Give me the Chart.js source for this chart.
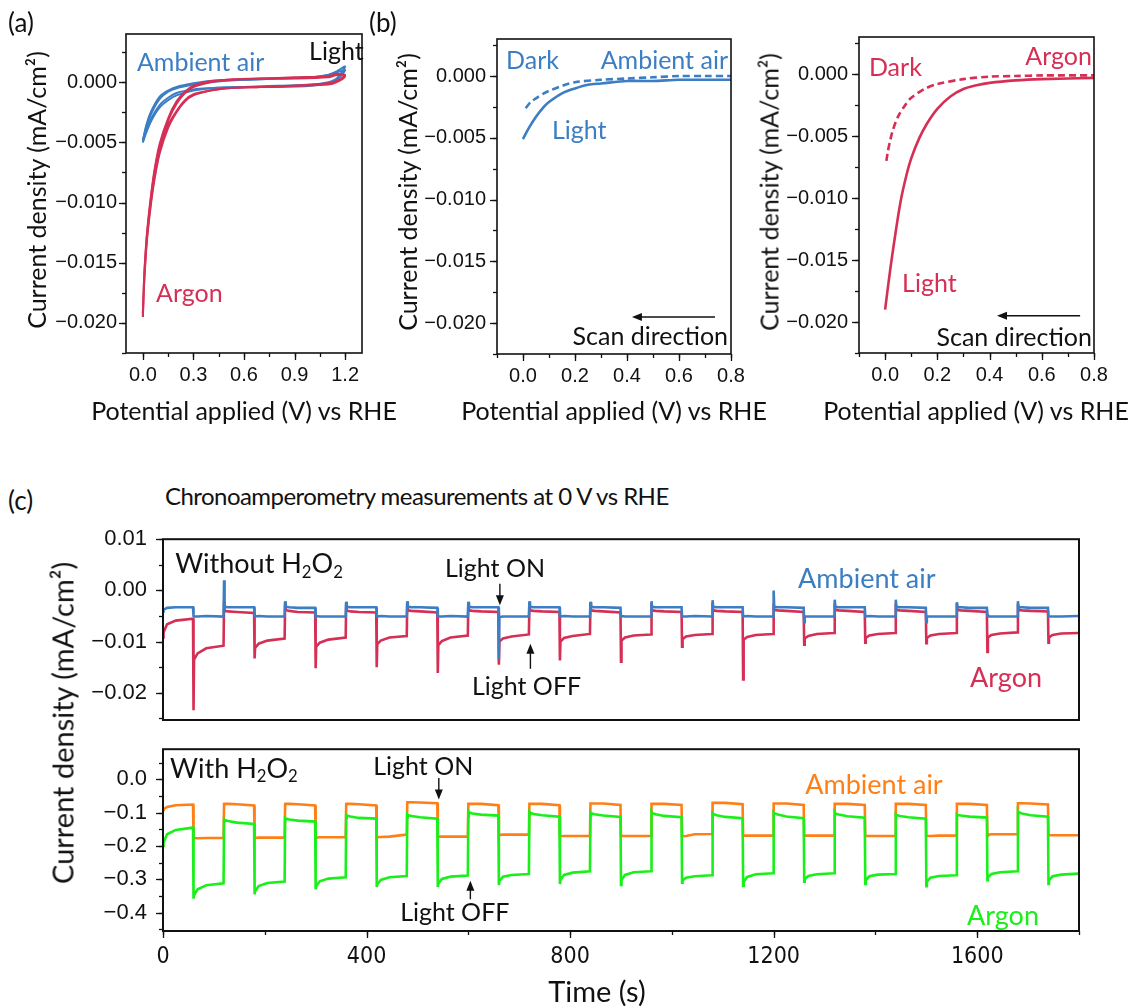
<!DOCTYPE html>
<html lang="en">
<head>
<meta charset="UTF-8">
<title>Photocurrent measurements</title>
<style>
  html, body { margin: 0; padding: 0; background: #fff; }
  #page { position: relative; width: 1132px; height: 1007px; overflow: hidden; font-family: Lato, "Open Sans", sans-serif; color: #111; }
  #page canvas { position: absolute; }
  .t { position: absolute; white-space: nowrap; line-height: 1; transform: translate(0, -50%); }
  .c { transform: translate(-50%, -50%); }
  .v { transform: translate(-50%, -50%) rotate(-90deg); }
</style>
</head>
<body>
<div id="page">
  <canvas id="panelA"></canvas>
  <canvas id="panelB1"></canvas>
  <canvas id="panelB2"></canvas>
  <canvas id="panelC1"></canvas>
  <canvas id="panelC2"></canvas>

  <div class="t" style="left:8px;top:22px;font-size:26px">(a)</div>
  <div class="t" style="left:369px;top:22px;font-size:26px">(b)</div>
  <div class="t" style="left:8px;top:500px;font-size:26px">(c)</div>

  <div class="t v" style="left:36px;top:190px;font-size:25px">Current density (mA/cm²)</div>
  <div class="t v" style="left:407px;top:192px;font-size:25px">Current density (mA/cm²)</div>
  <div class="t v" style="left:769px;top:192px;font-size:25px">Current density (mA/cm²)</div>
  <div class="t c" style="left:244px;top:410px;font-size:25px">Potential applied (V) vs RHE</div>
  <div class="t c" style="left:614px;top:410px;font-size:25px">Potential applied (V) vs RHE</div>
  <div class="t c" style="left:976px;top:410px;font-size:25px">Potential applied (V) vs RHE</div>

  <div class="t" style="left:165px;top:496px;font-size:24px;letter-spacing:-0.55px">Chronoamperometry measurements at 0 V vs RHE</div>
  <div class="t v" style="left:62px;top:723px;font-size:29px">Current density (mA/cm²)</div>
  <div class="t c" style="left:597px;top:990px;font-size:29px">Time (s)</div>
</div>

<script src="https://cdn.jsdelivr.net/npm/chart.js@4.4.2/dist/chart.umd.min.js"></script>
<script>
// ---- (a) cyclic voltammograms under light, two cycles each ----
const airCvPotential = [0, 0.02, 0.05, 0.1, 0.15, 0.2, 0.3, 0.4, 0.6, 0.8, 1.0, 1.1, 1.15, 1.2,
  1.15, 1.1, 1.0, 0.8, 0.6, 0.4, 0.3, 0.2, 0.15, 0.1, 0.05, 0.02, 0];
const airCycle1 = [-0.0050, -0.0042, -0.0032, -0.0021, -0.0015, -0.0011, -0.0007, -0.0005, -0.0004, -0.0004, -0.0003, -0.0001, 0.0002, 0.0010,
  0.0008, 0.0006, 0.0004, 0.0003, 0.0002, 0.0000, -0.0002, -0.0005, -0.0008, -0.0014, -0.0026, -0.0037, -0.0048];
const airCycle2 = [-0.0048, -0.0040, -0.0030, -0.0019, -0.0013, -0.0009, -0.0006, -0.0005, -0.0004, -0.0003, -0.0002, 0.0000, 0.0003, 0.0013,
  0.0009, 0.0006, 0.0004, 0.0003, 0.0002, 0.0001, -0.0001, -0.0004, -0.0007, -0.0012, -0.0024, -0.0036, -0.0050];

const argonCvPotential = [0, 0.005, 0.01, 0.02, 0.03, 0.05, 0.07, 0.1, 0.15, 0.2, 0.25, 0.3, 0.4, 0.5, 0.7, 0.9, 1.1, 1.15, 1.2,
  1.15, 1.1, 0.9, 0.7, 0.5, 0.4, 0.3, 0.25, 0.2, 0.15, 0.1, 0.07, 0.05, 0.03, 0.02, 0.01, 0.005, 0];
const argonCycle1 = [-0.0195, -0.0176, -0.0161, -0.0139, -0.0123, -0.0099, -0.0080, -0.0059, -0.0038, -0.0025, -0.0016, -0.0011, -0.0007, -0.0005, -0.0004, -0.0003, -0.0002, 0.0000, 0.0005,
  0.0007, 0.0005, 0.0004, 0.0003, 0.0002, 0.0001, -0.0003, -0.0008, -0.0016, -0.0030, -0.0051, -0.0072, -0.0092, -0.0117, -0.0133, -0.0155, -0.0171, -0.0192];
const argonCycle2 = [-0.0192, -0.0174, -0.0159, -0.0137, -0.0121, -0.0097, -0.0078, -0.0057, -0.0036, -0.0024, -0.0015, -0.0010, -0.0007, -0.0005, -0.0004, -0.0003, -0.0001, 0.0001, 0.0006,
  0.0006, 0.0004, 0.0003, 0.0003, 0.0002, 0.0000, -0.0004, -0.0009, -0.0018, -0.0032, -0.0053, -0.0074, -0.0094, -0.0119, -0.0135, -0.0157, -0.0174, -0.0195];

// ---- (b) linear sweeps, dark vs light ----
const airLightPotential = [0, 0.02, 0.05, 0.08, 0.1, 0.15, 0.2, 0.25, 0.3, 0.4, 0.5, 0.6, 0.7, 0.8];
const airLight = [-0.0051, -0.0043, -0.0033, -0.0025, -0.0021, -0.0014, -0.0010, -0.0007, -0.0006, -0.0004, -0.0004, -0.0003, -0.0003, -0.0003];
const airDarkPotential = [0.01, 0.03, 0.05, 0.08, 0.1, 0.15, 0.2, 0.3, 0.4, 0.5, 0.6, 0.7, 0.8];
const airDark = [-0.0026, -0.0021, -0.0018, -0.0014, -0.0012, -0.0008, -0.0005, -0.0003, -0.0002, -0.0001, 0.0000, 0.0000, 0.0000];

const argonLightPotential = [0, 0.02, 0.04, 0.06, 0.08, 0.1, 0.13, 0.16, 0.2, 0.25, 0.3, 0.35, 0.4, 0.5, 0.6, 0.8];
const argonLight = [-0.0190, -0.0157, -0.0128, -0.0102, -0.0083, -0.0068, -0.0052, -0.0040, -0.0028, -0.0018, -0.0012, -0.0009, -0.0007, -0.0005, -0.0004, -0.0003];
const argonDarkPotential = [0.005, 0.01, 0.02, 0.03, 0.05, 0.08, 0.1, 0.15, 0.2, 0.3, 0.4, 0.5, 0.6, 0.8];
const argonDark = [-0.0070, -0.0063, -0.0053, -0.0045, -0.0034, -0.0024, -0.0019, -0.0012, -0.0008, -0.0004, -0.0002, -0.00015, -0.0001, -0.0001];

// ---- (c) chopped-light chronoamperometry, light toggled every 60 s ----
const toggleTimes = [0, 60, 120, 180, 240, 300, 360, 420, 480, 540, 600, 660, 720, 780, 840,
  900, 960, 1020, 1080, 1140, 1200, 1260, 1320, 1380, 1440, 1500, 1560, 1620, 1680, 1740];
const sampleOffsets = [0, 1, 8, 25, 59];

const airNoPeroxide = [
  [-0.0041, -0.0038, -0.0034, -0.0033, -0.0033], [-0.0050, -0.0051, -0.0051, -0.0050, -0.0051],
  [0.0020, -0.0032, -0.0033, -0.0033, -0.0033], [-0.0051, -0.0051, -0.0050, -0.0051, -0.0051],
  [-0.0021, -0.0032, -0.0033, -0.0034, -0.0034], [-0.0051, -0.0050, -0.0051, -0.0051, -0.0051],
  [-0.0022, -0.0032, -0.0033, -0.0033, -0.0033], [-0.0051, -0.0051, -0.0050, -0.0051, -0.0051],
  [-0.0021, -0.0032, -0.0033, -0.0033, -0.0034], [-0.0051, -0.0051, -0.0051, -0.0050, -0.0051],
  [-0.0022, -0.0032, -0.0033, -0.0033, -0.0033], [-0.0136, -0.0052, -0.0051, -0.0051, -0.0051],
  [-0.0021, -0.0032, -0.0033, -0.0033, -0.0033], [-0.0051, -0.0051, -0.0050, -0.0051, -0.0051],
  [-0.0022, -0.0032, -0.0033, -0.0033, -0.0034], [-0.0051, -0.0050, -0.0051, -0.0051, -0.0051],
  [-0.0021, -0.0032, -0.0033, -0.0033, -0.0033], [-0.0051, -0.0051, -0.0051, -0.0050, -0.0051],
  [-0.0019, -0.0032, -0.0033, -0.0033, -0.0033], [-0.0051, -0.0051, -0.0050, -0.0051, -0.0051],
  [0.0000, -0.0032, -0.0033, -0.0033, -0.0034], [-0.0062, -0.0051, -0.0051, -0.0051, -0.0051],
  [-0.0018, -0.0032, -0.0033, -0.0033, -0.0033], [-0.0051, -0.0051, -0.0050, -0.0051, -0.0051],
  [-0.0018, -0.0032, -0.0033, -0.0033, -0.0034], [-0.0062, -0.0051, -0.0051, -0.0051, -0.0051],
  [-0.0023, -0.0033, -0.0033, -0.0034, -0.0034], [-0.0046, -0.0051, -0.0051, -0.0051, -0.0051],
  [-0.0021, -0.0033, -0.0033, -0.0034, -0.0034], [-0.0051, -0.0051, -0.0051, -0.0051, -0.0050]
];
const argonNoPeroxide = [
  [-0.0092, -0.0082, -0.0066, -0.0059, -0.0055], [-0.0234, -0.0135, -0.0123, -0.0113, -0.0108],
  [-0.0022, -0.0040, -0.0041, -0.0042, -0.0044], [-0.0133, -0.0112, -0.0104, -0.0098, -0.0094],
  [-0.0025, -0.0038, -0.0040, -0.0042, -0.0043], [-0.0152, -0.0110, -0.0102, -0.0096, -0.0092],
  [-0.0024, -0.0039, -0.0041, -0.0042, -0.0043], [-0.0150, -0.0105, -0.0098, -0.0092, -0.0089],
  [-0.0023, -0.0039, -0.0040, -0.0041, -0.0043], [-0.0161, -0.0107, -0.0099, -0.0092, -0.0088],
  [-0.0024, -0.0039, -0.0040, -0.0041, -0.0042], [-0.0145, -0.0100, -0.0094, -0.0090, -0.0086],
  [-0.0025, -0.0039, -0.0040, -0.0041, -0.0042], [-0.0137, -0.0100, -0.0093, -0.0089, -0.0085],
  [-0.0024, -0.0039, -0.0040, -0.0041, -0.0043], [-0.0139, -0.0098, -0.0092, -0.0088, -0.0086],
  [-0.0025, -0.0039, -0.0040, -0.0041, -0.0042], [-0.0110, -0.0095, -0.0090, -0.0087, -0.0085],
  [-0.0024, -0.0039, -0.0040, -0.0041, -0.0042], [-0.0174, -0.0096, -0.0091, -0.0087, -0.0085],
  [-0.0025, -0.0038, -0.0039, -0.0040, -0.0042], [-0.0106, -0.0094, -0.0089, -0.0085, -0.0083],
  [-0.0025, -0.0038, -0.0039, -0.0040, -0.0042], [-0.0102, -0.0093, -0.0088, -0.0085, -0.0083],
  [-0.0025, -0.0038, -0.0039, -0.0040, -0.0042], [-0.0103, -0.0093, -0.0088, -0.0085, -0.0083],
  [-0.0025, -0.0038, -0.0039, -0.0040, -0.0042], [-0.0120, -0.0092, -0.0087, -0.0084, -0.0082],
  [-0.0026, -0.0038, -0.0039, -0.0040, -0.0041], [-0.0102, -0.0092, -0.0087, -0.0084, -0.0083]
];
const airPeroxide = [
  [-0.093, -0.090, -0.083, -0.078, -0.076], [-0.176, -0.177, -0.177, -0.176, -0.176],
  [-0.075, -0.074, -0.074, -0.075, -0.079], [-0.176, -0.176, -0.175, -0.175, -0.175],
  [-0.075, -0.074, -0.074, -0.075, -0.079], [-0.175, -0.175, -0.174, -0.174, -0.174],
  [-0.075, -0.074, -0.074, -0.075, -0.079], [-0.174, -0.174, -0.173, -0.172, -0.166],
  [-0.070, -0.069, -0.069, -0.070, -0.072], [-0.172, -0.172, -0.172, -0.172, -0.172],
  [-0.074, -0.074, -0.074, -0.074, -0.078], [-0.171, -0.167, -0.166, -0.166, -0.166],
  [-0.074, -0.074, -0.074, -0.074, -0.078], [-0.171, -0.171, -0.170, -0.170, -0.170],
  [-0.073, -0.073, -0.073, -0.073, -0.077], [-0.170, -0.170, -0.170, -0.170, -0.170],
  [-0.074, -0.074, -0.074, -0.074, -0.077], [-0.171, -0.171, -0.170, -0.165, -0.164],
  [-0.071, -0.071, -0.071, -0.071, -0.075], [-0.169, -0.169, -0.169, -0.169, -0.169],
  [-0.073, -0.073, -0.073, -0.073, -0.077], [-0.169, -0.169, -0.169, -0.169, -0.169],
  [-0.074, -0.074, -0.074, -0.074, -0.077], [-0.170, -0.170, -0.170, -0.170, -0.170],
  [-0.074, -0.074, -0.074, -0.074, -0.077], [-0.170, -0.170, -0.170, -0.169, -0.169],
  [-0.074, -0.074, -0.074, -0.074, -0.077], [-0.170, -0.167, -0.165, -0.165, -0.165],
  [-0.072, -0.072, -0.072, -0.073, -0.076], [-0.168, -0.168, -0.168, -0.168, -0.168]
];
const argonPeroxide = [
  [-0.200, -0.190, -0.165, -0.152, -0.145], [-0.358, -0.348, -0.330, -0.318, -0.312],
  [-0.121, -0.122, -0.125, -0.130, -0.134], [-0.345, -0.336, -0.320, -0.311, -0.307],
  [-0.117, -0.118, -0.121, -0.124, -0.127], [-0.330, -0.321, -0.306, -0.298, -0.294],
  [-0.107, -0.109, -0.112, -0.116, -0.118], [-0.323, -0.315, -0.302, -0.294, -0.290],
  [-0.105, -0.107, -0.110, -0.114, -0.118], [-0.323, -0.313, -0.299, -0.292, -0.289],
  [-0.096, -0.099, -0.103, -0.106, -0.109], [-0.317, -0.306, -0.292, -0.287, -0.284],
  [-0.098, -0.100, -0.104, -0.108, -0.112], [-0.314, -0.302, -0.287, -0.280, -0.276],
  [-0.100, -0.102, -0.105, -0.109, -0.113], [-0.317, -0.302, -0.287, -0.279, -0.276],
  [-0.098, -0.101, -0.105, -0.110, -0.114], [-0.310, -0.303, -0.295, -0.291, -0.288],
  [-0.102, -0.104, -0.108, -0.113, -0.117], [-0.320, -0.308, -0.293, -0.285, -0.282],
  [-0.100, -0.102, -0.106, -0.112, -0.117], [-0.307, -0.300, -0.290, -0.285, -0.282],
  [-0.100, -0.103, -0.106, -0.111, -0.115], [-0.314, -0.303, -0.291, -0.286, -0.284],
  [-0.105, -0.107, -0.110, -0.114, -0.118], [-0.321, -0.308, -0.295, -0.290, -0.288],
  [-0.106, -0.107, -0.109, -0.112, -0.115], [-0.303, -0.294, -0.284, -0.279, -0.276],
  [-0.096, -0.099, -0.103, -0.108, -0.112], [-0.314, -0.303, -0.291, -0.286, -0.283]
];

// tick labels
const cvTicksX = [0, 0.3, 0.6, 0.9, 1.2];
const lsvTicksX = [0, 0.2, 0.4, 0.6, 0.8];
const densityTicks = [-0.020, -0.015, -0.010, -0.005, 0.000];
const timeTicks = [0, 400, 800, 1200, 1600];
const noPeroxideTicks = [-0.02, -0.01, 0.00, 0.01];
const peroxideTicks = [-0.4, -0.3, -0.2, -0.1, 0.0];

const BLUE = '#3b7ec3';
const RED = '#d52f55';
const ORANGE = '#ff7f17';
const GREEN = '#19f019';
const INK = '#111111';

function pairs(xs, ys) {
  return xs.map((x, i) => ({ x: x, y: ys[i] }));
}

function stepSeries(segments) {
  const pts = [];
  segments.forEach((seg, i) => {
    seg.forEach((v, j) => pts.push({ x: toggleTimes[i] + sampleOffsets[j], y: v }));
  });
  return pts;
}

function fmt(v, digits) {
  const s = Math.abs(v).toFixed(digits);
  return (v < -1e-9 ? '\u2212' : '') + s;
}

function line(data, color, width, dash, tension) {
  return {
    data: data, showLine: true, borderColor: color, backgroundColor: color,
    borderWidth: width, borderDash: dash || [], pointRadius: 0,
    tension: tension === undefined ? 0.3 : tension
  };
}

// text with optional subscript runs, left aligned at px, vertically centred on py
function drawRuns(ctx, runs, px, py, size, color, align) {
  ctx.fillStyle = color;
  ctx.textBaseline = 'middle';
  ctx.textAlign = 'left';
  let total = 0;
  runs.forEach(r => {
    ctx.font = (r.sub ? size * 0.62 : size) + 'px Lato, "Open Sans", sans-serif';
    total += ctx.measureText(r.t).width;
  });
  let x = align === 'right' ? px - total : px;
  runs.forEach(r => {
    const s = r.sub ? size * 0.62 : size;
    ctx.font = s + 'px Lato, "Open Sans", sans-serif';
    ctx.fillText(r.t, x, r.sub ? py + size * 0.3 : py);
    x += ctx.measureText(r.t).width;
  });
}

function drawArrow(ctx, x1, y1, x2, y2) {
  const ang = Math.atan2(y2 - y1, x2 - x1);
  const head = 10, half = 4;
  ctx.strokeStyle = INK; ctx.fillStyle = INK; ctx.lineWidth = 1.4;
  ctx.beginPath();
  ctx.moveTo(x1, y1);
  ctx.lineTo(x2 - Math.cos(ang) * head * 0.8, y2 - Math.sin(ang) * head * 0.8);
  ctx.stroke();
  ctx.beginPath();
  ctx.moveTo(x2, y2);
  ctx.lineTo(x2 - Math.cos(ang) * head - Math.sin(ang) * half, y2 - Math.sin(ang) * head + Math.cos(ang) * half);
  ctx.lineTo(x2 - Math.cos(ang) * head + Math.sin(ang) * half, y2 - Math.sin(ang) * head - Math.cos(ang) * half);
  ctx.closePath();
  ctx.fill();
}

// frame, outward ticks (major + minor) and in-plot annotations
function makeDecor(cfg) {
  return {
    id: 'decor',
    afterDraw(chart) {
      const ctx = chart.ctx, a = chart.chartArea;
      const xs = chart.scales.x, ys = chart.scales.y;
      ctx.save();
      ctx.strokeStyle = INK;
      ctx.lineWidth = 1.3;
      const mark = (scale, step, len, horiz) => {
        const first = Math.ceil(scale.min / step - 1e-6);
        const last = Math.floor(scale.max / step + 1e-6);
        for (let k = first; k <= last; k++) {
          const p = Math.round(scale.getPixelForValue(k * step)) + 0.5;
          ctx.beginPath();
          if (horiz) { ctx.moveTo(p, a.bottom); ctx.lineTo(p, a.bottom + len); }
          else { ctx.moveTo(a.left, p); ctx.lineTo(a.left - len, p); }
          ctx.stroke();
        }
      };
      if (cfg.xMinor) { mark(xs, cfg.xMinor, 4, true); mark(xs, cfg.xMajor, 7, true); }
      mark(ys, cfg.yMinor, 4, false);
      mark(ys, cfg.yMajor, 7, false);
      ctx.lineWidth = cfg.frame || 1.6;
      ctx.strokeRect(a.left, a.top, a.right - a.left, a.bottom - a.top);

      (cfg.notes || []).forEach(n => {
        const px = xs.getPixelForValue(n.x), py = ys.getPixelForValue(n.y);
        drawRuns(ctx, n.runs || [{ t: n.text }], px, py, n.size, n.color, n.align);
      });
      (cfg.arrows || []).forEach(r => {
        drawArrow(ctx, xs.getPixelForValue(r.x1), ys.getPixelForValue(r.y1),
          xs.getPixelForValue(r.x2), ys.getPixelForValue(r.y2));
      });
      ctx.restore();
    }
  };
}

function panel(id, box, cfg) {
  const L = 120, T = 16, R = 40, B = 60;
  const cv = document.getElementById(id);
  cv.width = box[2] - box[0] + L + R;
  cv.height = box[3] - box[1] + T + B;
  cv.style.left = (box[0] - L) + 'px';
  cv.style.top = (box[1] - T) + 'px';
  const tickFont = { family: 'Liberation Sans, Arial, sans-serif', size: cfg.tickSize || 20 };
  return new Chart(cv, {
    type: 'scatter',
    data: { datasets: cfg.datasets },
    options: {
      responsive: false, animation: false, devicePixelRatio: 1,
      layout: { padding: { left: 0, top: T, right: R, bottom: 0 }, autoPadding: false },
      plugins: { legend: { display: false }, tooltip: { enabled: false } },
      scales: {
        x: {
          type: 'linear', min: cfg.xRange[0], max: cfg.xRange[1],
          afterFit: s => { s.height = B; },
          afterBuildTicks: s => { s.ticks = cfg.xTicks.map(v => ({ value: v })); },
          grid: { display: false, drawTicks: false }, border: { display: false },
          ticks: {
            display: cfg.xLabels !== false, padding: cfg.xPad || 10, color: INK,
            font: cfg.xFont || tickFont, autoSkip: false, maxRotation: 0,
            callback: v => fmt(v, cfg.xDigits)
          }
        },
        y: {
          type: 'linear', min: cfg.yRange[0], max: cfg.yRange[1],
          afterFit: s => { s.width = L; },
          afterBuildTicks: s => { s.ticks = cfg.yTicks.map(v => ({ value: v })); },
          grid: { display: false, drawTicks: false }, border: { display: false },
          ticks: {
            padding: cfg.yPad || 10, color: INK, font: tickFont, autoSkip: false,
            callback: v => fmt(v, cfg.yDigits)
          }
        }
      }
    },
    plugins: [makeDecor(cfg)]
  });
}

// (a)
panel('panelA', [126, 29, 362, 353], {
  xRange: [-0.1, 1.3], yRange: [-0.0225, 0.004],
  xTicks: cvTicksX, yTicks: densityTicks, xDigits: 1, yDigits: 3,
  xMajor: 0.3, xMinor: 0.15, yMajor: 0.005, yMinor: 0.0025, yPad: 9,
  datasets: [
    line(pairs(argonCvPotential, argonCycle1), RED, 2),
    line(pairs(argonCvPotential, argonCycle2), RED, 2),
    line(pairs(airCvPotential, airCycle1), BLUE, 2),
    line(pairs(airCvPotential, airCycle2), BLUE, 2)
  ],
  notes: [
    { text: 'Ambient air', x: -0.035, y: 0.00163, color: BLUE, size: 25 },
    { text: 'Light', x: 0.986, y: 0.00253, color: INK, size: 25 },
    { text: 'Argon', x: 0.078, y: -0.0176, color: RED, size: 25 }
  ]
});

// (b) ambient air
panel('panelB1', [497, 32, 731, 354], {
  xRange: [-0.1, 0.8], yRange: [-0.0225, 0.003],
  xTicks: lsvTicksX, yTicks: densityTicks, xDigits: 1, yDigits: 3,
  xMajor: 0.2, xMinor: 0.1, yMajor: 0.005, yMinor: 0.0025, yPad: 11,
  datasets: [
    line(pairs(airLightPotential, airLight), BLUE, 2.6),
    line(pairs(airDarkPotential, airDark), BLUE, 2.6, [7, 4])
  ],
  notes: [
    { text: 'Dark', x: -0.065, y: 0.00126, color: BLUE, size: 25 },
    { text: 'Ambient air', x: 0.7885, y: 0.00126, color: BLUE, size: 25, align: 'right' },
    { text: 'Light', x: 0.1115, y: -0.00444, color: BLUE, size: 25 },
    { text: 'Scan direction', x: 0.7885, y: -0.02115, color: INK, size: 25, align: 'right' }
  ],
  arrows: [{ x1: 0.7385, y1: -0.0195, x2: 0.419, y2: -0.0195 }]
});

// (b) argon
panel('panelB2', [859, 30, 1094, 353], {
  xRange: [-0.1, 0.8], yRange: [-0.0225, 0.003],
  xTicks: lsvTicksX, yTicks: densityTicks, xDigits: 1, yDigits: 3,
  xMajor: 0.2, xMinor: 0.1, yMajor: 0.005, yMinor: 0.0025, yPad: 11,
  datasets: [
    line(pairs(argonLightPotential, argonLight), RED, 2.6),
    line(pairs(argonDarkPotential, argonDark), RED, 2.6, [7, 4])
  ],
  notes: [
    { text: 'Dark', x: -0.062, y: 0.00047, color: RED, size: 25 },
    { text: 'Argon', x: 0.792, y: 0.00142, color: RED, size: 25, align: 'right' },
    { text: 'Light', x: 0.065, y: -0.0169, color: RED, size: 25 },
    { text: 'Scan direction', x: 0.792, y: -0.0213, color: INK, size: 25, align: 'right' }
  ],
  arrows: [{ x1: 0.7468, y1: -0.0195, x2: 0.4285, y2: -0.0195 }]
});

// (c) without H2O2
panel('panelC1', [163, 526, 1079, 720], {
  xRange: [0, 1800], yRange: [-0.0253, 0.01],
  xTicks: timeTicks, yTicks: noPeroxideTicks, xDigits: 0, yDigits: 2, xLabels: false,
  yMajor: 0.01, yMinor: 0.005, yPad: 16, tickSize: 22, frame: 2,
  datasets: [
    line(stepSeries(airNoPeroxide), BLUE, 2.6, null, 0),
    line(stepSeries(argonNoPeroxide), RED, 2.6, null, 0)
  ],
  notes: [
    { runs: [{ t: 'Without H' }, { t: '2', sub: true }, { t: 'O' }, { t: '2', sub: true }], x: 24, y: 0.0051, color: INK, size: 27 },
    { text: 'Light ON', x: 554, y: 0.0042, color: INK, size: 25 },
    { text: 'Light OFF', x: 607, y: -0.0189, color: INK, size: 25 },
    { text: 'Ambient air', x: 1248, y: 0.0022, color: BLUE, size: 27 },
    { text: 'Argon', x: 1586, y: -0.0171, color: RED, size: 27 }
  ],
  arrows: [
    { x1: 662, y1: 0.0013, x2: 662, y2: -0.0029 },
    { x1: 722, y1: -0.0153, x2: 722, y2: -0.0104 }
  ]
});

// (c) with H2O2
panel('panelC2', [163, 736, 1079, 931], {
  xRange: [0, 1800], yRange: [-0.455, 0.09],
  xTicks: timeTicks, yTicks: peroxideTicks, xDigits: 0, yDigits: 1,
  xMajor: 400, xMinor: 200, yMajor: 0.1, yMinor: 0.05, yPad: 16, tickSize: 22, frame: 2,
  xFont: { family: 'Liberation Sans Narrow, DejaVu Sans Condensed, Liberation Sans, sans-serif', size: 23 }, xPad: 12,
  datasets: [
    line(stepSeries(argonPeroxide), GREEN, 2.6, null, 0),
    line(stepSeries(airPeroxide), ORANGE, 2.6, null, 0)
  ],
  notes: [
    { runs: [{ t: 'With H' }, { t: '2', sub: true }, { t: 'O' }, { t: '2', sub: true }], x: 14, y: 0.031, color: INK, size: 27 },
    { text: 'Light ON', x: 413, y: 0.037, color: INK, size: 25 },
    { text: 'Light OFF', x: 466, y: -0.402, color: INK, size: 25 },
    { text: 'Ambient air', x: 1262, y: -0.019, color: ORANGE, size: 27 },
    { text: 'Argon', x: 1580, y: -0.41, color: GREEN, size: 27 }
  ],
  arrows: [
    { x1: 542, y1: 0.0034, x2: 542, y2: -0.061 },
    { x1: 604, y1: -0.36, x2: 604, y2: -0.304 }
  ]
});
</script>
</body>
</html>
